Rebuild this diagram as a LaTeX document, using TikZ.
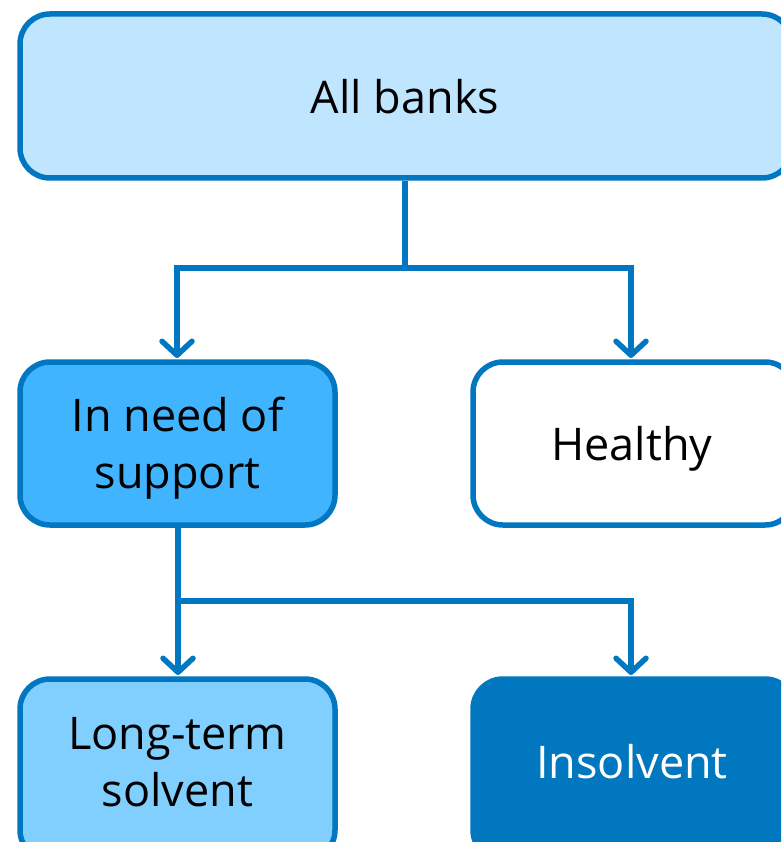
\documentclass[tikz,border=0pt]{standalone}
\usepackage{fontspec}
\setmainfont{Open Sans}
\usetikzlibrary{arrows.meta}
\definecolor{edgeblue}{HTML}{0077C0}
\definecolor{topfill}{HTML}{C0E6FF}
\definecolor{needfill}{HTML}{40B4FF}
\definecolor{ltfill}{HTML}{80CFFF}
\definecolor{insfill}{HTML}{0077BE}
\tikzset{
  boxfont/.style={font=\fontsize{45}{57}\selectfont},
  box/.style={draw=edgeblue, line width=5.5pt, rounded corners=30pt, align=center,
    boxfont, inner sep=0pt},
  conn/.style={draw=edgeblue, line width=5.5pt},
  arr/.style={conn, -{Straight Barb[length=14pt,width=30pt,line width=5.5pt,round]}},
}
\begin{document}
\begin{tikzpicture}[x=1pt,y=-1pt]
\useasboundingbox (0,0) rectangle (781,842);
\clip (0,0) rectangle (781,842);
\node[box, fill=topfill, minimum width=772pt, minimum height=164pt] (all) at (406,96) {};
\node[boxfont] (allt) at (405,97) {All banks};
\node[box, fill=needfill, minimum width=315pt, minimum height=163pt] (need) at (177.5,443.5) {};
\node[boxfont, align=center] (needt) at (177.5,448.5) {In need of\\support};
\node[box, fill=white, minimum width=322pt, minimum height=163pt] (healthy) at (634,443.5) {};
\node[boxfont] (healthyt) at (632,449) {Healthy};
\node[box, fill=ltfill, minimum width=315pt, minimum height=181pt] (lt) at (177.5,769.5) {};
\node[boxfont, align=center] (ltt) at (177.5,762) {Long-term\\solvent};
\node[box, draw=insfill, fill=insfill, minimum width=322pt, minimum height=181pt] (ins) at (634,769.5) {};
\node[boxfont, text=white] (inst) at (632,762) {Insolvent};
\coordinate (j1) at (405,268);
\coordinate (j2) at (178,601);
\draw[conn] (all.south -| j1) -- (j1);
\draw[arr] (j1) -| (177,358);
\draw[arr] (j1) -| (631,358);
\draw[conn] (need.south -| j2) -- (j2);
\draw[arr] (j2) -- (178,675);
\draw[arr] (j2) -| (631,675);
\end{tikzpicture}
\end{document}
